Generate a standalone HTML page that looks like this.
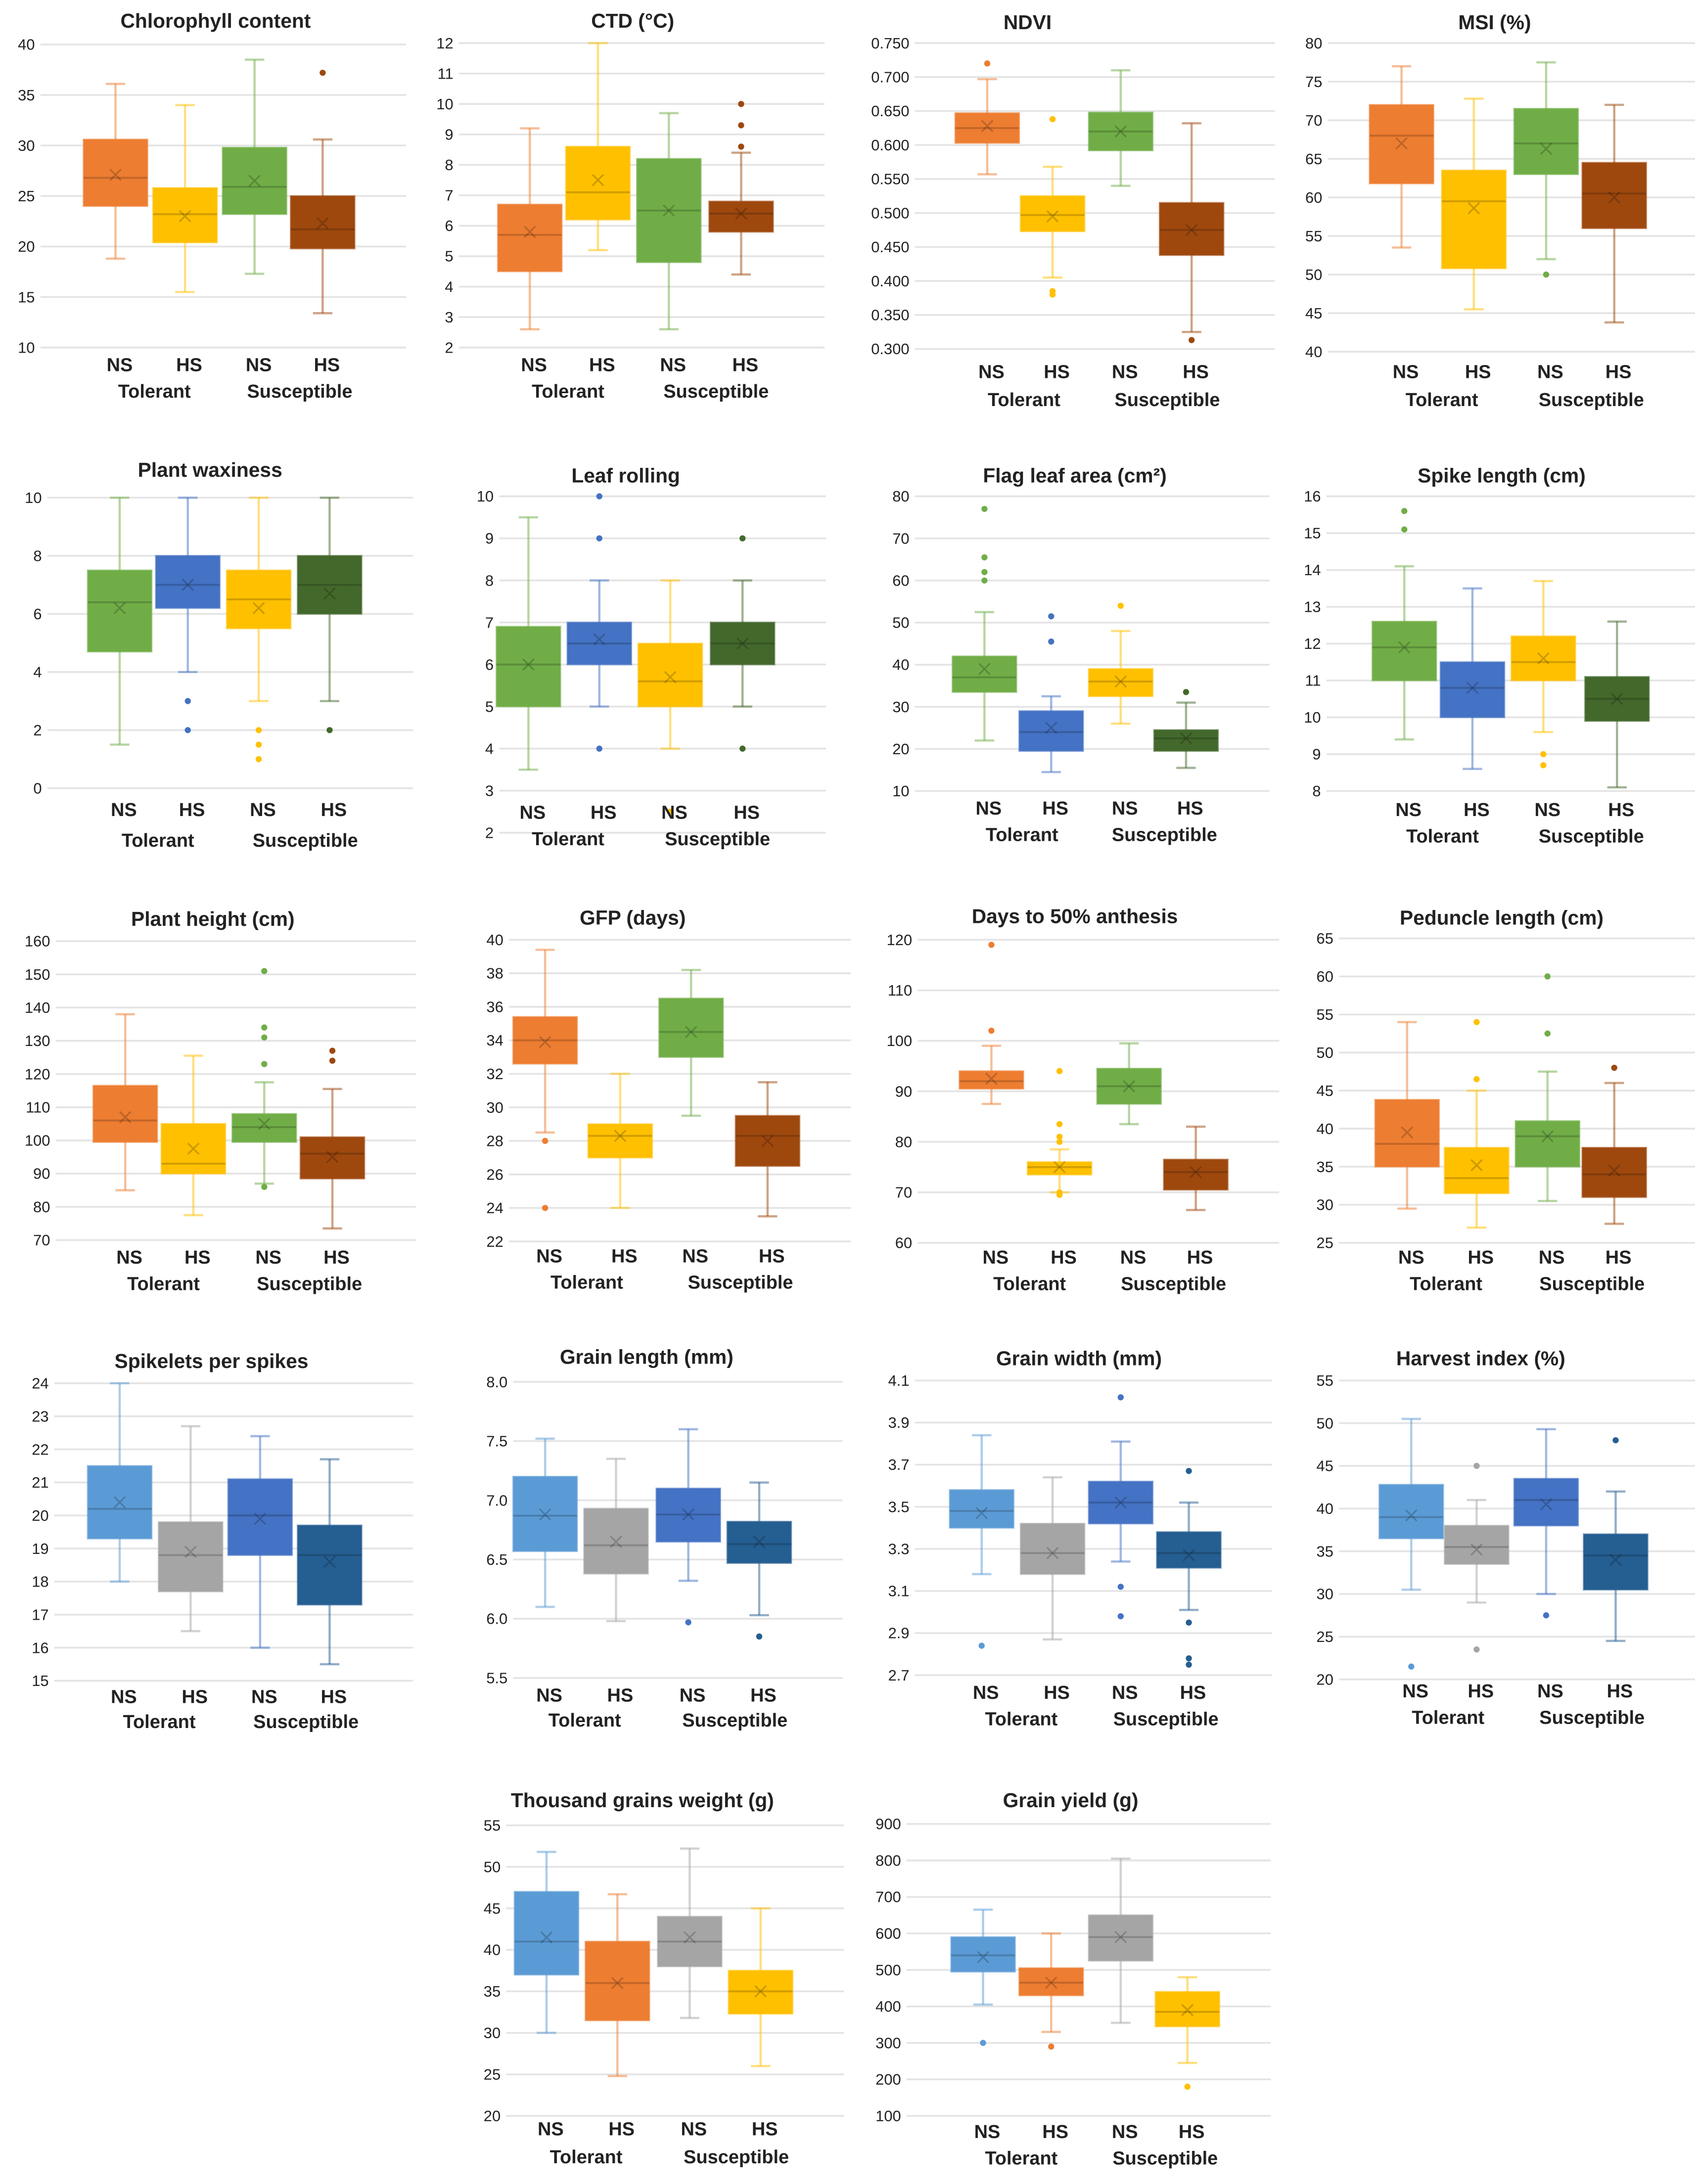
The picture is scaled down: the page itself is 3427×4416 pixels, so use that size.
<!DOCTYPE html>
<html><head><meta charset="utf-8"><style>
html,body{margin:0;padding:0;background:#fff;}
svg{display:block;}
</style></head><body>
<svg id="fig" xmlns="http://www.w3.org/2000/svg" width="3427" height="4416" viewBox="0 0 1219 1571" font-family="'Liberation Sans', sans-serif"></svg>
<script>
// data arrays: [min, q1, median, q3, max, mean, outliers]
const groupLabels = ["NS","HS","NS","HS"];
const categoryLabels = ["Tolerant","Susceptible"];
const chlorophyllData = [[18.8,24,26.8,30.6,36.1,27.1,[]],[15.5,20.4,23.2,25.8,34,23,[]],[17.3,23.2,25.9,29.8,38.5,26.5,[]],[13.4,19.8,21.7,25,30.6,22.3,[37.2]]];
const ctdData = [[2.6,4.5,5.7,6.7,9.2,5.8,[]],[5.2,6.2,7.1,8.6,12,7.5,[]],[2.6,4.8,6.5,8.2,9.7,6.5,[]],[4.4,5.8,6.4,6.8,8.4,6.4,[8.6,9.3,10,10]]];
const ndviData = [[0.557,0.603,0.625,0.647,0.697,0.628,[0.720]],[0.405,0.473,0.497,0.525,0.568,0.495,[0.638,0.385,0.380]],[0.540,0.592,0.620,0.648,0.710,0.620,[]],[0.325,0.438,0.475,0.515,0.632,0.475,[0.313]]];
const msiData = [[53.5,61.8,68,72,77,67,[]],[45.5,50.8,59.5,63.5,72.8,58.6,[]],[52,63,67,71.5,77.5,66.3,[50]],[43.8,56,60.5,64.5,72,60,[]]];
const waxinessData = [[1.5,4.7,6.4,7.5,10,6.2,[]],[4,6.2,7,8,10,7,[3,2]],[3,5.5,6.5,7.5,10,6.2,[2,1.5,1]],[3,6,7,8,10,6.7,[2]]];
const leafRollingData = [[3.5,5,6,6.9,9.5,6,[]],[5,6,6.5,7,8,6.6,[10,9,4]],[4,5,5.6,6.5,8,5.7,[2.5]],[5,6,6.5,7,8,6.5,[9,4]]];
const flagLeafData = [[22,33.5,37,42,52.5,39,[60,62,65.5,77]],[14.5,19.5,24,29,32.5,25,[45.5,51.5]],[26,32.5,36,39,48,36,[54]],[15.5,19.5,22.5,24.5,31,22.5,[33.5]]];
const spikeLengthData = [[9.4,11,11.9,12.6,14.1,11.9,[15.1,15.6]],[8.6,10,10.8,11.5,13.5,10.8,[]],[9.6,11,11.5,12.2,13.7,11.6,[9,8.7]],[8.1,9.9,10.5,11.1,12.6,10.5,[]]];
const heightData = [[85,99.5,106,116.5,138,107,[]],[77.5,90,93,105,125.5,97.5,[]],[87,99.5,104,108,117.5,105,[123,131,134,151,86]],[73.5,88.5,96,101,115.5,95,[124,127]]];
const gfpData = [[28.5,32.6,34,35.4,39.4,33.9,[28,24]],[24,27,28.3,29,32,28.3,[]],[29.5,33,34.5,36.5,38.2,34.5,[]],[23.5,26.5,28.3,29.5,31.5,28,[]]];
const anthesisData = [[87.5,90.5,92,94,99,92.5,[102,119]],[70,73.5,75,76,78.5,75,[94,83.5,81,80,70,69.5]],[83.5,87.5,91,94.5,99.5,91,[]],[66.5,70.5,74,76.5,83,74,[]]];
const peduncleData = [[29.5,35,38,43.8,54,39.5,[]],[27,31.5,33.5,37.5,45,35.2,[46.5,54]],[30.5,35,39,41,47.5,39,[52.5,60]],[27.5,31,34,37.5,46,34.5,[48]]];
const spikeletsData = [[18,19.3,20.2,21.5,24,20.4,[]],[16.5,17.7,18.8,19.8,22.7,18.9,[]],[16,18.8,20,21.1,22.4,19.9,[]],[15.5,17.3,18.8,19.7,21.7,18.6,[]]];
const grainLengthData = [[6.1,6.57,6.87,7.2,7.52,6.88,[]],[5.98,6.38,6.62,6.93,7.35,6.65,[]],[6.32,6.65,6.88,7.1,7.6,6.88,[5.97]],[6.03,6.47,6.63,6.82,7.15,6.65,[5.85]]];
const grainWidthData = [[3.18,3.4,3.48,3.58,3.84,3.47,[2.84]],[2.87,3.18,3.28,3.42,3.64,3.28,[]],[3.24,3.42,3.52,3.62,3.81,3.52,[4.02,3.12,2.98]],[3.01,3.21,3.28,3.38,3.52,3.27,[3.67,2.95,2.78,2.75]]];
const harvestData = [[30.5,36.5,39,42.8,50.5,39.2,[21.5]],[29,33.5,35.5,38,41,35.2,[45,23.5]],[30,38,41,43.5,49.3,40.5,[27.5]],[24.5,30.5,34.5,37,42,34,[48]]];
const tgwData = [[30,37,41,47,51.8,41.5,[]],[24.8,31.5,36,41,46.7,36,[]],[31.8,38,41,44,52.2,41.5,[]],[26,32.3,35,37.5,45,35,[]]];
const yieldData = [[405,495,540,590,665,535,[300]],[330,430,465,505,600,465,[290]],[355,525,590,650,805,590,[]],[245,345,385,440,480,390,[180]]];

const C = {or:"#ED7D31",ye:"#FFC000",gr:"#70AD47",br:"#9E480E",bl:"#4472C4",dg:"#43682B",gy:"#A5A5A5",lb:"#5B9BD5",db:"#255E91"};
const SVGNS = "http://www.w3.org/2000/svg";
const fig = document.getElementById('fig');
function mk(tag, attrs, parent){const e=document.createElementNS(SVGNS,tag);for(const k in attrs)e.setAttribute(k,attrs[k]);(parent||fig).appendChild(e);return e;}

// layout: title, titleX, titleY, labelRight, yTop, yBot, tickMax, tickMin, step, decimals, box centers, groupY, catY, colors, data
const panels = [
 {n:"chlorophyll",t:"Chlorophyll content",tx:155,ty:20,lr:25,yt:32,yb:250,mx:40,mn:10,st:5,d:0,cx:[83,133,183,232],gy:267,cy:286,c:[C.or,C.ye,C.gr,C.br],data:chlorophyllData},
 {n:"ctd",t:"CTD (°C)",tx:455,ty:20,lr:326,yt:31,yb:250,mx:12,mn:2,st:1,d:0,cx:[381,430,481,533],gy:267,cy:286,c:[C.or,C.ye,C.gr,C.br],data:ctdData},
 {n:"ndvi",t:"NDVI",tx:739,ty:21,lr:654,yt:31,yb:251,mx:0.75,mn:0.3,st:0.05,d:3,cx:[710,757,806,857],gy:272,cy:292,c:[C.or,C.ye,C.gr,C.br],data:ndviData},
 {n:"msi",t:"MSI (%)",tx:1075,ty:21,lr:951,yt:31,yb:253,mx:80,mn:40,st:5,d:0,cx:[1008,1060,1112,1161],gy:272,cy:292,c:[C.or,C.ye,C.gr,C.br],data:msiData},
 {n:"waxiness",t:"Plant waxiness",tx:151,ty:343,lr:30,yt:358,yb:567,mx:10,mn:0,st:2,d:0,cx:[86,135,186,237],gy:587,cy:609,c:[C.gr,C.bl,C.ye,C.dg],data:waxinessData},
 {n:"leaf-rolling",t:"Leaf rolling",tx:450,ty:347,lr:355,yt:357,yb:599,mx:10,mn:2,st:1,d:0,cx:[380,431,482,534],gy:589,cy:608,c:[C.gr,C.bl,C.ye,C.dg],data:leafRollingData},
 {n:"flag-leaf",t:"Flag leaf area (cm²)",tx:773,ty:347,lr:654,yt:357,yb:569,mx:80,mn:10,st:10,d:0,cx:[708,756,806,853],gy:586,cy:605,c:[C.gr,C.bl,C.ye,C.dg],data:flagLeafData},
 {n:"spike-length",t:"Spike length (cm)",tx:1080,ty:347,lr:950,yt:357,yb:569,mx:16,mn:8,st:1,d:0,cx:[1010,1059,1110,1163],gy:587,cy:606,c:[C.gr,C.bl,C.ye,C.dg],data:spikeLengthData},
 {n:"plant-height",t:"Plant height (cm)",tx:153,ty:666,lr:36,yt:677,yb:892,mx:160,mn:70,st:10,d:0,cx:[90,139,190,239],gy:909,cy:928,c:[C.or,C.ye,C.gr,C.br],data:heightData},
 {n:"gfp",t:"GFP (days)",tx:455,ty:665,lr:362,yt:676,yb:893,mx:40,mn:22,st:2,d:0,cx:[392,446,497,552],gy:908,cy:927,c:[C.or,C.ye,C.gr,C.br],data:gfpData},
 {n:"anthesis",t:"Days to 50% anthesis",tx:773,ty:664,lr:656,yt:676,yb:894,mx:120,mn:60,st:10,d:0,cx:[713,762,812,860],gy:909,cy:928,c:[C.or,C.ye,C.gr,C.br],data:anthesisData},
 {n:"peduncle",t:"Peduncle length (cm)",tx:1080,ty:665,lr:959,yt:675,yb:894,mx:65,mn:25,st:5,d:0,cx:[1012,1062,1113,1161],gy:909,cy:928,c:[C.or,C.ye,C.gr,C.br],data:peduncleData},
 {n:"spikelets",t:"Spikelets per spikes",tx:152,ty:984,lr:35,yt:995,yb:1209,mx:24,mn:15,st:1,d:0,cx:[86,137,187,237],gy:1225,cy:1243,c:[C.lb,C.gy,C.bl,C.db],data:spikeletsData},
 {n:"grain-length",t:"Grain length (mm)",tx:465,ty:981,lr:365,yt:994,yb:1207,mx:8,mn:5.5,st:0.5,d:1,cx:[392,443,495,546],gy:1224,cy:1242,c:[C.lb,C.gy,C.bl,C.db],data:grainLengthData},
 {n:"grain-width",t:"Grain width (mm)",tx:776,ty:982,lr:654,yt:993,yb:1205,mx:4.1,mn:2.7,st:0.2,d:1,cx:[706,757,806,855],gy:1222,cy:1241,c:[C.lb,C.gy,C.bl,C.db],data:grainWidthData},
 {n:"harvest-index",t:"Harvest index (%)",tx:1065,ty:982,lr:959,yt:993,yb:1208,mx:55,mn:20,st:5,d:0,cx:[1015,1062,1112,1162],gy:1221,cy:1240,c:[C.lb,C.gy,C.bl,C.db],data:harvestData},
 {n:"tgw",t:"Thousand grains weight (g)",tx:462,ty:1300,lr:360,yt:1313,yb:1522,mx:55,mn:20,st:5,d:0,cx:[393,444,496,547],gy:1536,cy:1556,c:[C.lb,C.or,C.gy,C.ye],data:tgwData},
 {n:"grain-yield",t:"Grain yield (g)",tx:770,ty:1300,lr:648,yt:1312,yb:1522,mx:900,mn:100,st:100,d:0,cx:[707,756,806,854],gy:1538,cy:1557,c:[C.lb,C.or,C.gy,C.ye],data:yieldData},
];

panels.forEach(p=>{
  const g = mk('g',{});
  
  
  const y = v => p.yb - (v - p.mn)/(p.mx - p.mn)*(p.yb - p.yt);
  const gx0 = p.lr + 4, gx1 = p.cx[3] + 60;
  const title = mk('text',{x:p.tx,y:p.ty,'text-anchor':'middle','font-size':14.5,'font-weight':'bold',fill:'#222'},g);
  title.textContent = p.t;
  
  
  const nT = Math.round((p.mx-p.mn)/p.st);
  for(let i=0;i<=nT;i++){
    const v = p.mn + i*p.st;
    const yy = y(v);
    const gl = mk('line',{x1:gx0,x2:gx1,y1:yy,y2:yy,stroke:'#e4e4e4','stroke-width':1.3},g);
    
    
    const tl = mk('text',{x:p.lr,y:yy+3.8,'text-anchor':'end','font-size':11,fill:'#222'},g);
    tl.textContent = v.toFixed(p.d);
    
    
  }
  const bw = 46;
  p.data.forEach((b,i)=>{
    const cx = p.cx[i], col = p.c[i];
    const bg = mk('g',{},g);
    
    
    const ws = {stroke:col,'stroke-opacity':0.5,'stroke-width':1.6};
    mk('line',Object.assign({x1:cx,x2:cx,y1:y(b[4]),y2:y(b[3])},ws),bg);
    mk('line',Object.assign({x1:cx,x2:cx,y1:y(b[1]),y2:y(b[0])},ws),bg);
    mk('line',Object.assign({x1:cx-7,x2:cx+7,y1:y(b[4]),y2:y(b[4])},ws),bg);
    mk('line',Object.assign({x1:cx-7,x2:cx+7,y1:y(b[0]),y2:y(b[0])},ws),bg);
    mk('rect',{x:cx-bw/2,y:y(b[3]),width:bw,height:y(b[1])-y(b[3]),fill:col,stroke:col,'stroke-opacity':0.6,'stroke-width':1.2},bg);
    mk('line',{x1:cx-bw/2,x2:cx+bw/2,y1:y(b[2]),y2:y(b[2]),stroke:'#000','stroke-opacity':0.18,'stroke-width':1.4},bg);
    const my = y(b[5]);
    mk('path',{d:`M${cx-4},${my-4}L${cx+4},${my+4}M${cx+4},${my-4}L${cx-4},${my+4}`,stroke:'#000','stroke-opacity':0.2,'stroke-width':1.2},bg);
    b[6].forEach(o=>{
      const dot = mk('circle',{cx:cx,cy:y(o),r:2.2,fill:col},bg);
      
      
    });
    const gl = mk('text',{x:cx+3,y:p.gy,'text-anchor':'middle','font-size':13.5,'font-weight':'bold',fill:'#222'},g);
    gl.textContent = groupLabels[i];
    
    
  });
  [0,1].forEach(k=>{
    const cx = (p.cx[2*k]+p.cx[2*k+1])/2 + (k?8:3);
    const cl = mk('text',{x:cx,y:p.cy,'text-anchor':'middle','font-size':13.5,'font-weight':'bold',fill:'#222'},g);
    cl.textContent = categoryLabels[k];
    
    
  });
});
</script>
</body></html>
